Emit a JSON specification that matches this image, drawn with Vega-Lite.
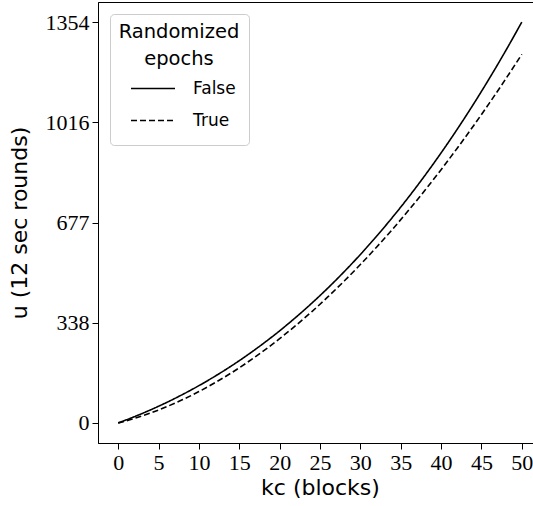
{
  "$schema": "https://vega.github.io/schema/vega-lite/v6.json",
  "autosize": {"type": "none"},
  "padding": {"left": 98, "top": 2, "right": 0, "bottom": 63},
  "width": 444,
  "height": 441,
  "background": "white",
  "config": {
    "view": {"stroke": "black", "strokeWidth": 1},
    "axis": {
      "grid": false,
      "domainColor": "black",
      "domainWidth": 1,
      "tickColor": "black",
      "tickSize": 6,
      "tickWidth": 1,
      "labelFont": "Liberation Serif",
      "labelFontSize": 22,
      "labelColor": "black",
      "titleFont": "DejaVu Sans",
      "titleFontSize": 22,
      "titleFontWeight": "normal",
      "titleColor": "black"
    }
  },
  "data": {
    "values": [
      {"k": 0, "u": 0, "r": "False"},
      {"k": 2, "u": 21.1, "r": "False"},
      {"k": 4, "u": 44.1, "r": "False"},
      {"k": 6, "u": 69.2, "r": "False"},
      {"k": 8, "u": 96.5, "r": "False"},
      {"k": 10, "u": 126.0, "r": "False"},
      {"k": 12, "u": 157.9, "r": "False"},
      {"k": 14, "u": 192.2, "r": "False"},
      {"k": 16, "u": 229.2, "r": "False"},
      {"k": 18, "u": 268.8, "r": "False"},
      {"k": 20, "u": 311.2, "r": "False"},
      {"k": 22, "u": 356.6, "r": "False"},
      {"k": 24, "u": 404.9, "r": "False"},
      {"k": 26, "u": 456.3, "r": "False"},
      {"k": 28, "u": 511.0, "r": "False"},
      {"k": 30, "u": 568.9, "r": "False"},
      {"k": 32, "u": 630.3, "r": "False"},
      {"k": 34, "u": 695.2, "r": "False"},
      {"k": 36, "u": 763.7, "r": "False"},
      {"k": 38, "u": 836.0, "r": "False"},
      {"k": 40, "u": 912.1, "r": "False"},
      {"k": 42, "u": 992.1, "r": "False"},
      {"k": 44, "u": 1076.2, "r": "False"},
      {"k": 46, "u": 1164.5, "r": "False"},
      {"k": 48, "u": 1257.0, "r": "False"},
      {"k": 50, "u": 1354.0, "r": "False"},
      {"k": 0, "u": 0, "r": "True"},
      {"k": 2, "u": 15.3, "r": "True"},
      {"k": 4, "u": 33.6, "r": "True"},
      {"k": 6, "u": 54.8, "r": "True"},
      {"k": 8, "u": 78.9, "r": "True"},
      {"k": 10, "u": 106.0, "r": "True"},
      {"k": 12, "u": 136.0, "r": "True"},
      {"k": 14, "u": 168.8, "r": "True"},
      {"k": 16, "u": 204.6, "r": "True"},
      {"k": 18, "u": 243.2, "r": "True"},
      {"k": 20, "u": 284.8, "r": "True"},
      {"k": 22, "u": 329.1, "r": "True"},
      {"k": 24, "u": 376.3, "r": "True"},
      {"k": 26, "u": 426.4, "r": "True"},
      {"k": 28, "u": 479.3, "r": "True"},
      {"k": 30, "u": 535.0, "r": "True"},
      {"k": 32, "u": 593.5, "r": "True"},
      {"k": 34, "u": 654.8, "r": "True"},
      {"k": 36, "u": 719.0, "r": "True"},
      {"k": 38, "u": 785.9, "r": "True"},
      {"k": 40, "u": 855.5, "r": "True"},
      {"k": 42, "u": 927.9, "r": "True"},
      {"k": 44, "u": 1003.1, "r": "True"},
      {"k": 46, "u": 1081.0, "r": "True"},
      {"k": 48, "u": 1161.7, "r": "True"},
      {"k": 50, "u": 1245.0, "r": "True"}
    ]
  },
  "mark": {"type": "line", "color": "black", "strokeWidth": 1.6, "interpolate": "monotone"},
  "encoding": {
    "x": {
      "field": "k",
      "type": "quantitative",
      "scale": {"domain": [-2.5, 52.5], "nice": false, "zero": false},
      "axis": {
        "values": [0, 5, 10, 15, 20, 25, 30, 35, 40, 45, 50],
        "title": "kc (blocks)",
        "labelPadding": 3,
        "titlePadding": 4,
        "labelFlush": false
      }
    },
    "y": {
      "field": "u",
      "type": "quantitative",
      "scale": {"domain": [-67.7, 1421.7], "nice": false, "zero": false},
      "axis": {
        "values": [0, 338.5, 677, 1015.5, 1354],
        "labelExpr": "datum.value === 338.5 ? '338' : format(datum.value, '.0f')",
        "title": "u (12 sec rounds)",
        "labelPadding": 3,
        "titlePadding": 14,
        "labelFlush": false
      }
    },
    "strokeDash": {
      "field": "r",
      "type": "nominal",
      "scale": {"domain": ["False", "True"], "range": [[1, 0], [6, 3]]},
      "legend": {
        "title": ["Randomized", "epochs"],
        "orient": "none",
        "legendX": 12,
        "legendY": 12,
        "titleFont": "DejaVu Sans",
        "titleFontSize": 19.5,
        "titleFontWeight": "normal",
        "titleColor": "black",
        "titleAnchor": "middle",
        "titleAlign": "center",
        "titleLineHeight": 27,
        "titlePadding": 4,
        "labelFont": "DejaVu Sans",
        "labelFontSize": 17,
        "labelColor": "black",
        "labelOffset": 17,
        "symbolType": "stroke",
        "symbolSize": 1936,
        "symbolStrokeWidth": 1.6,
        "symbolStrokeColor": "black",
        "symbolOffset": 8,
        "clipHeight": 30,
        "padding": 9,
        "strokeColor": "#cccccc",
        "fillColor": "white",
        "cornerRadius": 4
      }
    }
  }
}
